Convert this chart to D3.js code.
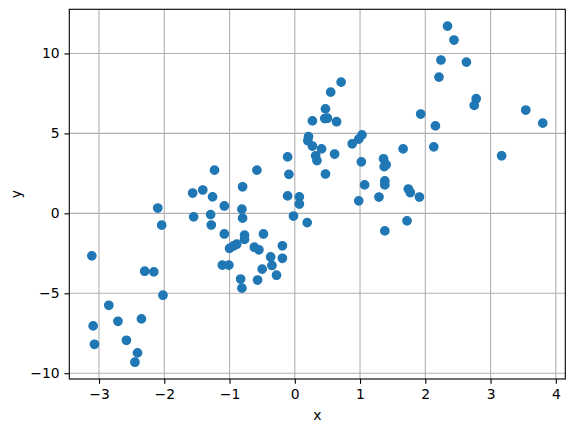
<!DOCTYPE html>
<html>
<head>
<meta charset="utf-8">
<script src="https://cdn.jsdelivr.net/npm/d3@7"></script>
<style>
html,body{margin:0;padding:0;background:#fff;}
svg{display:block;}
text{font-family:"DejaVu Sans",sans-serif;}
</style>
</head>
<body>
<div id="chart"></div>
<script>
const xValues = [-3.11,-3.09,-3.07,-2.85,-2.71,-2.58,-2.41,-2.45,-2.35,-2.30,-2.16,-2.10,-2.04,-2.02,
 -1.565,-1.41,-1.26,-1.55,-1.29,-1.28,-1.08,-1.08,-0.80,-0.81,-0.80,-1.23,-0.58,-0.77,-0.77,-0.48,
 -1.00,-0.94,-0.89,-0.62,-0.55,-0.19,-0.37,-0.19,-0.35,-0.50,-0.28,-1.11,-1.01,-0.83,-0.57,-0.81,
 -0.11,0.07,0.07,-0.02,0.19,-0.11,-0.09,0.27,0.21,0.20,0.27,0.41,0.32,0.34,0.61,0.47,0.46,0.50,
 0.47,0.55,0.71,0.64,1.03,0.98,0.88,1.02,1.36,1.40,1.37,1.38,1.38,1.07,0.98,1.29,1.74,1.77,1.91,
 1.72,1.38,1.66,2.13,2.155,1.93,2.21,2.24,2.34,2.44,2.63,2.75,2.78,3.17,3.54,3.80];
const yValues = [-2.66,-7.04,-8.19,-5.75,-6.75,-7.94,-8.73,-9.31,-6.60,-3.62,-3.66,0.33,-0.74,-5.12,
 1.27,1.46,1.03,-0.22,-0.08,-0.73,0.46,-1.29,1.66,0.26,-0.30,2.70,2.70,-1.36,-1.63,-1.29,
 -2.19,-2.04,-1.93,-2.12,-2.28,-2.03,-2.73,-2.81,-3.26,-3.49,-3.87,-3.24,-3.24,-4.11,-4.17,-4.68,
 1.09,1.03,0.58,-0.17,-0.58,3.53,2.44,5.78,4.80,4.54,4.21,4.03,3.60,3.30,3.71,2.46,5.93,5.95,
 6.53,7.58,8.21,5.73,4.91,4.64,4.35,3.22,3.41,3.04,2.92,2.03,1.78,1.78,0.78,1.02,1.52,1.30,1.02,
 -0.47,-1.10,4.03,4.16,5.47,6.21,8.52,9.59,11.71,10.84,9.46,6.75,7.17,3.60,6.46,5.64];
const xTicks = [-3,-2,-1,0,1,2,3,4];
const yTicks = [-10,-5,0,5,10];
const xLabel = "x";
const yLabel = "y";

const W = 574, H = 432;
const mLeft = 69.3, mTop = 9.3, mRight = 565.3, mBottom = 379;
const fmt = v => (v < 0 ? "\u2212" + Math.abs(v) : String(v));

const pts = xValues.map((xv, i) => ({x: xv, y: yValues[i]}));
const xr = d3.extent(xValues), yr = d3.extent(yValues);
const xm = (xr[1]-xr[0])*0.05, ym = (yr[1]-yr[0])*0.05;
const x = d3.scaleLinear().domain([xr[0]-xm, xr[1]+xm]).range([mLeft, mRight]);
const y = d3.scaleLinear().domain([yr[0]-ym, yr[1]+ym]).range([mBottom, mTop]);

const svg = d3.select("#chart").append("svg").attr("width", W).attr("height", H);

// grid
svg.append("g").selectAll("line").data(xTicks).join("line")
  .attr("x1", d => x(d)).attr("x2", d => x(d)).attr("y1", mTop).attr("y2", mBottom)
  .attr("stroke", "#b0b0b0").attr("stroke-width", 1.11);
svg.append("g").selectAll("line").data(yTicks).join("line")
  .attr("y1", d => y(d)).attr("y2", d => y(d)).attr("x1", mLeft).attr("x2", mRight)
  .attr("stroke", "#b0b0b0").attr("stroke-width", 1.11);

// points
svg.append("g").selectAll("circle").data(pts).join("circle")
  .attr("cx", d => x(d.x)).attr("cy", d => y(d.y)).attr("r", 4.17)
  .attr("fill", "#1f77b4").attr("stroke", "#1f77b4").attr("stroke-width", 1.39);

// axes
const xAxis = d3.axisBottom(x).tickValues(xTicks).tickFormat(fmt).tickSize(4.86).tickPadding(4.86);
const yAxis = d3.axisLeft(y).tickValues(yTicks).tickFormat(fmt).tickSize(4.86).tickPadding(4.86);
const gx = svg.append("g").attr("transform", `translate(0,${mBottom})`).call(xAxis);
const gy = svg.append("g").attr("transform", `translate(${mLeft},0)`).call(yAxis);
[gx, gy].forEach(g => {
  g.select(".domain").remove();
  g.selectAll(".tick line").attr("stroke", "#000").attr("stroke-width", 1.11);
  g.selectAll(".tick text").attr("fill", "#000").style("font-size", "13.9px")
    .style("font-family", "'DejaVu Sans', sans-serif");
});

// frame
svg.append("rect").attr("x", mLeft).attr("y", mTop).attr("width", mRight-mLeft).attr("height", mBottom-mTop)
  .attr("fill", "none").attr("stroke", "#000").attr("stroke-width", 1.11);

// labels
svg.append("text").attr("x", (mLeft+mRight)/2).attr("y", 420).attr("text-anchor", "middle")
  .style("font-size", "13.9px").text(xLabel);
svg.append("text").attr("transform", `translate(21,${(mTop+mBottom)/2}) rotate(-90)`)
  .attr("text-anchor", "middle").style("font-size", "13.9px").text(yLabel);
</script>
</body>
</html>
